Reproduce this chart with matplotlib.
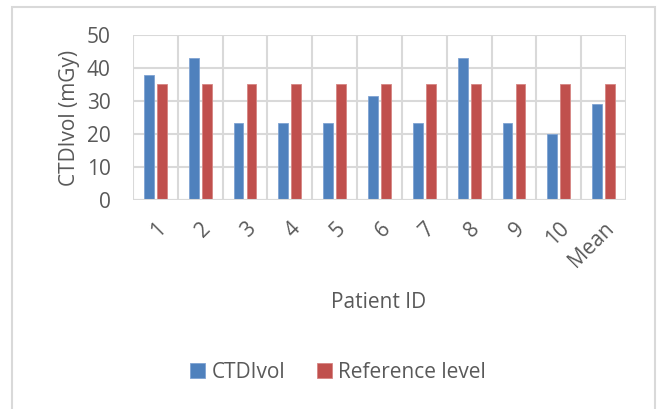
import numpy as np
import matplotlib.pyplot as plt
from matplotlib.patches import Rectangle

# dose per patient and the diagnostic reference level
patients = ['1', '2', '3', '4', '5', '6', '7', '8', '9', '10', 'Mean']
ctdivol = [38, 43, 23.2, 23.2, 23.2, 31.5, 23.2, 43, 23.2, 20, 29.2]
ref_level = [35, 35, 35, 35, 35, 35, 35, 35, 35, 35, 35]

blue = '#4F81BD'
red = '#C0504D'
txt = '#595959'
grid = '#D9D9D9'
fs = 15

plt.rcParams['font.family'] = ['Open Sans', 'DejaVu Sans']

fig = plt.figure(figsize=(6.57, 4.09), dpi=100)
ax = fig.add_axes([133/657, 1-200/409, (626-133)/657, (200-35)/409])

x = np.arange(len(patients))
w = 0.22
off = 0.145
ax.bar(x - off, ctdivol, w, color=blue, edgecolor='#7FA3D3', linewidth=0.6, label='CTDIvol', zorder=3)
ax.bar(x + off, ref_level, w, color=red, edgecolor='#D68583', linewidth=0.6, label='Reference level', zorder=3)

ax.set_xlim(-0.5, len(patients) - 0.5)
ax.set_ylim(0, 50)
ax.set_yticks(range(0, 51, 10))
ax.set_xticks(x)
ax.set_xticklabels(patients, rotation=45, ha='right', rotation_mode='anchor')

# category boundaries as vertical gridlines
for b in np.arange(-0.5, len(patients), 1):
    ax.axvline(b, color=grid, lw=1.5, zorder=1)
ax.yaxis.grid(True, color=grid, lw=1.5, zorder=1)
for s in ax.spines.values():
    s.set_visible(False)
ax.axhline(0, color=grid, lw=1.5, zorder=4)

ax.tick_params(length=0, colors=txt, labelsize=fs)
ax.tick_params(axis='x', pad=13)
ax.tick_params(axis='y', pad=16)
ax.set_ylabel('CTDIvol (mGy)', color=txt, fontsize=fs, labelpad=5)
fig.text(379/657, 1-302/409, 'Patient ID', color=txt, fontsize=fs, ha='center', va='center')

leg = fig.legend(loc='center', bbox_to_anchor=(338/657, 1-372/409), ncol=2, frameon=False,
                 fontsize=fs, handlelength=0.75, handleheight=0.75, handletextpad=0.3,
                 columnspacing=1.5)
for t in leg.get_texts():
    t.set_color(txt)

# outer chart border
fig.patches.append(Rectangle((12/657, -0.05), (655-12)/657, 1.05-7/409, transform=fig.transFigure,
                             fill=False, edgecolor='#D9D9D9', lw=1.5))

fig.savefig('out.png', dpi=100)
